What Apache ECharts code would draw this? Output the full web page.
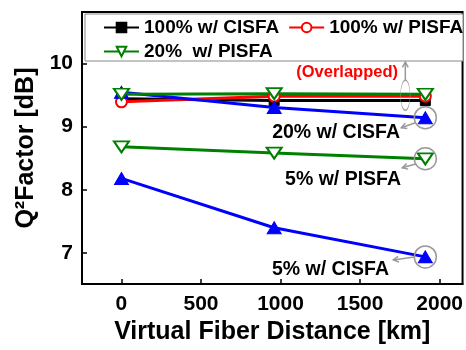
<!DOCTYPE html>
<html>
<head>
<meta charset="utf-8">
<script src="https://cdn.jsdelivr.net/npm/echarts@6/dist/echarts.min.js"></script>
<style>
html, body { margin: 0; padding: 0; background: #fff; }
#chart { width: 466px; height: 350px; }
</style>
</head>
<body>
<div id="chart"></div>
<script>
// 数据
var distances = [0, 960, 1910];
var cisfa100 = [9.44, 9.41, 9.41];
var pisfa100 = [9.39, 9.48, 9.48];
var pisfa20 = [9.51, 9.52, 9.51];
var cisfa20 = [9.54, 9.30, 9.14];
var pisfa5 = [8.68, 8.58, 8.49];
var cisfa5 = [8.18, 7.40, 6.94];
var xTicks = [0, 500, 1000, 1500, 2000];
var yTicks = [7, 8, 9, 10];

var FONT = "'Liberation Sans', Arial, sans-serif";
var GRAY = '#999';

function pairs(ys) {
	var out = [];
	for (var i = 0; i < ys.length; i++) {
		out.push([distances[i], ys[i]]);
	}
	return out;
}

var chart = echarts.init(document.getElementById('chart'));

var legendText = { fontSize: 19, fontWeight: 'bold', color: '#000', fontFamily: FONT };

function mkSeries(name, data, color, symbol, size, rotate, hollow) {
	return {
		name: name,
		type: 'line',
		data: pairs(data),
		color: color,
		symbol: symbol,
		symbolSize: size,
		symbolRotate: rotate,
		showAllSymbol: true,
		lineStyle: { color: color, width: 3 },
		itemStyle: hollow ? { color: '#fff', borderColor: color, borderWidth: 2 }
			: { color: color, borderColor: color, borderWidth: 1 },
		emphasis: { disabled: true },
		animation: false
	};
}

var option = {
	animation: false,
	grid: {
		left: 82, right: 1, top: 12, bottom: 56,
		show: true, borderColor: '#000', borderWidth: 2, backgroundColor: '#fff'
	},
	legend: [{
		data: ['100% w/ CISFA', '100% w/ PISFA'],
		left: 103, top: 18, padding: 0,
		itemWidth: 35, itemHeight: 12, itemGap: 9,
		textStyle: legendText
	}, {
		data: ['20%  w/ PISFA'],
		left: 103, top: 42, padding: 0,
		itemWidth: 35, itemHeight: 12,
		textStyle: legendText
	}],
	xAxis: {
		type: 'value',
		min: -248, max: 2144,
		name: 'Virtual Fiber Distance [km]',
		nameLocation: 'middle',
		nameGap: 33,
		nameTextStyle: { fontSize: 25, fontWeight: 'bold', color: '#000', fontFamily: FONT },
		axisLine: { show: true, onZero: false, lineStyle: { color: '#000', width: 2 } },
		axisTick: { show: true, inside: true, length: 5, customValues: xTicks, lineStyle: { color: '#000', width: 1.5 } },
		axisLabel: {
			customValues: xTicks, margin: 10, fontSize: 21, fontWeight: 'bold', color: '#000', fontFamily: FONT,
			formatter: function (v) { return String(v); }
		},
		splitLine: { show: false }
	},
	yAxis: {
		type: 'value',
		min: 6.51, max: 10.81,
		name: 'Q²Factor [dB]',
		nameLocation: 'middle',
		nameGap: 29,
		nameTextStyle: { fontSize: 25, fontWeight: 'bold', color: '#000', fontFamily: FONT },
		axisLine: { show: true, onZero: false, lineStyle: { color: '#000', width: 2 } },
		axisTick: { show: true, inside: true, length: 5, customValues: yTicks, lineStyle: { color: '#000', width: 1.5 } },
		axisLabel: {
			customValues: yTicks, margin: 9, fontSize: 21, fontWeight: 'bold', color: '#000', fontFamily: FONT,
			formatter: function (v) { return String(v); }
		},
		splitLine: { show: false }
	},
	series: [
		mkSeries('100% w/ CISFA', cisfa100, '#000', 'rect', 10, 0, false),
		mkSeries('100% w/ PISFA', pisfa100, '#ff0000', 'circle', 11, 0, true),
		mkSeries('20% w/ CISFA', cisfa20, '#0000ff', 'triangle', [14, 12], 0, false),
		mkSeries('5% w/ CISFA', cisfa5, '#0000ff', 'triangle', [14, 12], 0, false),
		mkSeries('5% w/ PISFA', pisfa5, '#008000', 'triangle', [15, 11], 180, true),
		mkSeries('20%  w/ PISFA', pisfa20, '#008000', 'triangle', [15, 11], 180, true)
	],
	graphic: [{
		type: 'rect', z: 3,
		shape: { x: 85, y: 14, width: 378, height: 47 },
		style: { fill: '#fff', stroke: '#888', lineWidth: 1 }
	}]
};

chart.setOption(option);

// 注释: 圆圈与箭头
function px(x, y) { return chart.convertToPixel({ gridIndex: 0 }, [x, y]); }

function arrow(x1, y1, x2, y2) {
	var ang = Math.atan2(y2 - y1, x2 - x1);
	var h = 6, a = 0.5;
	return [{
		type: 'line', z: 20,
		shape: { x1: x1, y1: y1, x2: x2, y2: y2 },
		style: { stroke: GRAY, lineWidth: 1.5 }
	}, {
		type: 'polyline', z: 20,
		shape: { points: [
			[x2 - h * Math.cos(ang - a), y2 - h * Math.sin(ang - a)],
			[x2, y2],
			[x2 - h * Math.cos(ang + a), y2 - h * Math.sin(ang + a)]
		] },
		style: { stroke: GRAY, lineWidth: 1.5, fill: null }
	}];
}

function note(text, x, y, color, size) {
	return {
		type: 'text', z: 20,
		style: {
			text: text, x: x, y: y, fill: color,
			font: 'bold ' + size + 'px ' + FONT,
			textAlign: 'right', textVerticalAlign: 'middle'
		}
	};
}

var last = distances.length - 1;
var p20c = px(distances[last], cisfa20[last]);
var p5p = px(distances[last], pisfa5[last]);
var p5c = px(distances[last], cisfa5[last]);
var pTop = px(distances[last], pisfa20[last]);

var g = [option.graphic[0]];
[p20c, p5p, p5c].forEach(function (p) {
	g.push({
		type: 'circle', z: 20,
		shape: { cx: p[0], cy: p[1], r: 11 },
		style: { fill: null, stroke: GRAY, lineWidth: 1.5 }
	});
});
// 椭圆 (重叠的三条线)
g.push({
	type: 'circle', z: 20,
	x: pTop[0] - 20, y: pTop[1] + 1,
	scaleX: 0.32,
	shape: { cx: 0, cy: 0, r: 15 },
	style: { fill: null, stroke: GRAY, lineWidth: 1.5, strokeNoScale: true }
});
g = g.concat(arrow(pTop[0] - 20, pTop[1] - 14, pTop[0] - 20, 62));
g = g.concat(arrow(p20c[0] - 10, p20c[1] + 5, p20c[0] - 24, p20c[1] + 10));
g = g.concat(arrow(p5p[0] - 9, p5p[1] + 5, p5p[0] - 23, p5p[1] + 9));
g = g.concat(arrow(p5c[0] - 11, p5c[1], p5c[0] - 32, p5c[1] + 3));

g.push(note('(Overlapped)', 398, 72, '#ff0000', 16.5));
g.push(note('20% w/ CISFA', 400, 133, '#000', 19.5));
g.push(note('5% w/ PISFA', 401, 180, '#000', 19.5));
g.push(note('5% w/ CISFA', 389, 270, '#000', 19.5));

chart.setOption({ graphic: g });
</script>
</body>
</html>
